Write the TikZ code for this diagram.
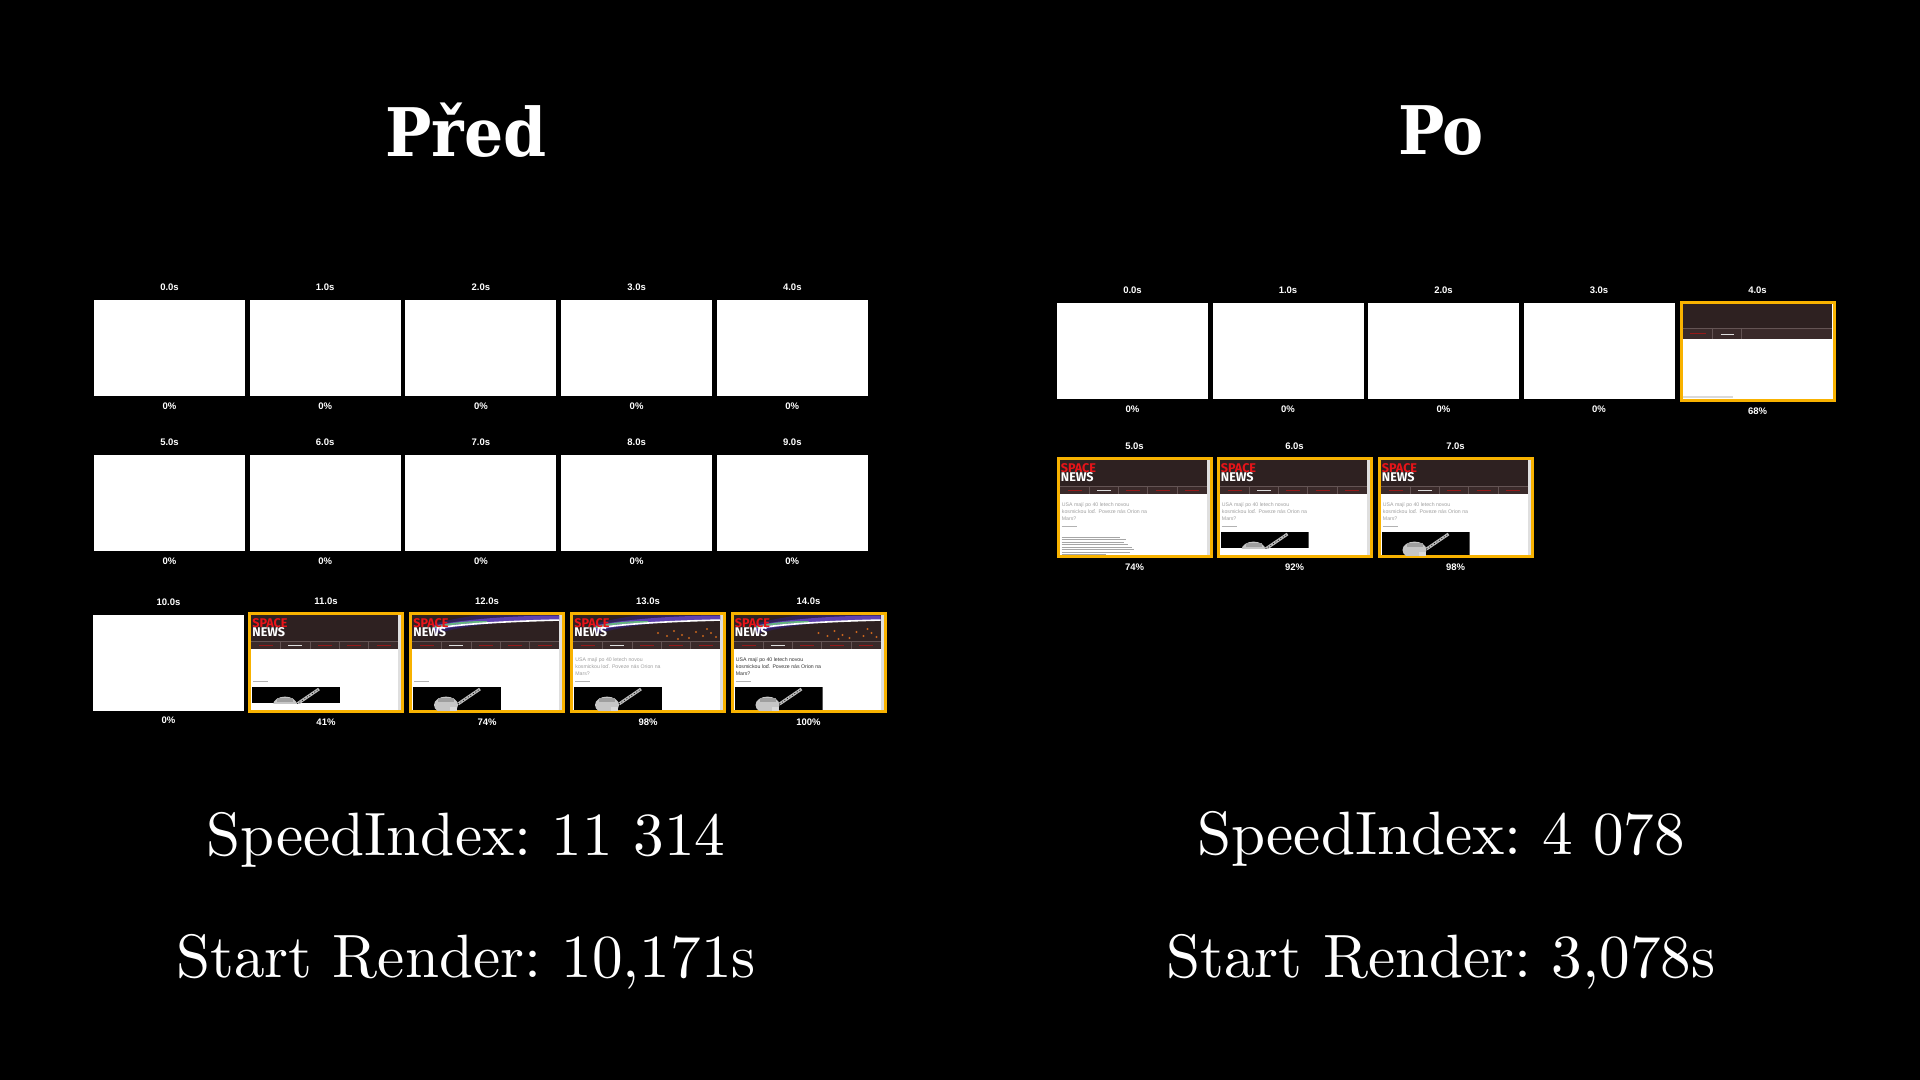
\documentclass[tikz,border=0pt]{standalone}
\usepackage{fontspec}
\setmainfont{lmroman10-regular.otf}
\newfontfamily\titlefont{DejaVu Serif}
\newfontfamily\labelfont{Liberation Sans}
\newfontfamily\logofont{Fira Sans}
\usetikzlibrary{positioning}
\definecolor{frameorange}{RGB}{248,178,0}
\definecolor{headerbrown}{RGB}{46,33,33}
\definecolor{navbrown}{RGB}{58,42,42}
\definecolor{navline}{RGB}{100,84,84}
\definecolor{logored}{RGB}{232,20,25}
\definecolor{navred}{RGB}{150,25,25}
\definecolor{earthpurple}{RGB}{96,66,178}
\definecolor{earthgreen}{RGB}{100,180,130}
\definecolor{citylight}{RGB}{200,100,30}

% earth horizon in the header (inside \sitehead)
\newcommand\earth{%
  \begin{scope}
    \clip (3,3) rectangle (150,29);
    \draw[earthpurple!50!black, line width=5pt] (25,17) .. controls (60,7) and (110,3) .. (152,3);
    \draw[earthpurple, line width=2.5pt] (25,16) .. controls (60,9) and (110,6) .. (152,6);
    \draw[earthgreen, line width=1pt] (26,15) .. controls (45,11) and (60,10) .. (78,10);
    \draw[white, line width=0.8pt] (28,16) .. controls (60,11) and (110,9) .. (152,8);
  \end{scope}}

% city lights below the horizon (inside \sitehead)
\newcommand\lights{%
  \foreach \lx/\ly in {88/21,97/24,104/19,112/23,119/26,126/20,
                       133/24,141/21,146/25,108/27,137/17}
    \fill[citylight] (\lx,\ly) circle (0.55pt);}

% site header with logo and five menu cells, #2 = extra header art
\newcommand\sitehead[2]{%
  \begin{scope}[shift={(#1.north west)}]
    \fill[gray!25] (150,3) rectangle (153,98);
    \fill[headerbrown] (3,3) rectangle (150,37);
    #2
    \fill[navbrown] (3,29) rectangle (150,37);
    \draw[navline, line width=0.3pt] (3,29) -- (150,29);
    \foreach \k in {1,...,4}
      \draw[navline, line width=0.3pt] (3+29.4*\k,29) -- (3+29.4*\k,37);
    \foreach \k in {0,2,3,4}
      \draw[navred, line width=0.5pt] (11+29.4*\k,33) -- (25+29.4*\k,33);
    \draw[white!75!gray, line width=0.4pt] (40.4,33) -- (54.4,33);
    \node[logo, text=logored] at (4,6) {SPACE};
    \node[logo, text=white] at (4,15.5) {NEWS};
  \end{scope}}

% article title, date line
\newcommand\headline[2]{%
  \begin{scope}[shift={(#1.north west)}]
    \node[headtext, text=#2] at (5,45.5)
      {USA mají po 40 letech novou\\kosmickou loď. Poveze nás Orion na\\Mars?};
  \end{scope}}
\newcommand\dateline[1]{%
  \begin{scope}[shift={(#1.north west)}]
    \draw[gray!60, line width=0.5pt] (5,69) -- (20,69);
  \end{scope}}

% black photo with the capsule, #2 = bottom edge
\newcommand\photo[2]{%
  \begin{scope}[shift={(#1.north west)}]
    \clip (4,75) rectangle (92,#2);
    \fill[black] (4,75) rectangle (92,#2);
    \fill[gray!45] (37,93) ellipse (6pt and 4.2pt);
    \fill[gray!75] (29,86) rectangle (45,90);
    \fill[white!70!gray] (41,95) rectangle (48,99);
    \draw[gray!55, line width=1.5pt] (49,92) -- (71,77);
    \draw[black, line width=0.3pt, dash pattern=on 0.5pt off 1pt] (49,92) -- (71,77);
  \end{scope}}

% body text lines
\newcommand\bodytext[1]{%
  \begin{scope}[shift={(#1.north west)}]
    \foreach \ly/\lw in {80/58,82.5/64,85/62,87.5/66,90/70,92.5/72,95/68,97.5/44}
      \draw[gray!70, line width=0.5pt] (5,\ly) -- (5+\lw,\ly);
  \end{scope}}

\begin{document}
\begin{tikzpicture}[x=0.5pt, y=-0.5pt,
  blank/.style={fill=white, minimum width=75.5pt, minimum height=48pt, inner sep=0, outer sep=0},
  framed/.style={fill=white, draw=frameorange, line width=1.5pt, minimum width=76.5pt, minimum height=49pt, inner sep=0},
  tlabel/.style={font=\labelfont\bfseries\fontsize{4.75}{5}\selectfont, text=white, inner sep=0},
  logo/.style={anchor=north west, inner sep=0, font=\logofont\bfseries\fontsize{6.3}{6.3}\selectfont},
  headtext/.style={anchor=north west, inner sep=0, align=left, font=\labelfont\fontsize{2.6}{3.35}\selectfont},
  title/.style={anchor=base, inner sep=0, text=white, font=\titlefont\bfseries\fontsize{33.5}{40}\selectfont},
  stat/.style={anchor=base, inner sep=0, text=white, font=\fontsize{30.6}{36}\selectfont\frenchspacing}]

\fill[black] (0,0) rectangle (1920,1080);
\useasboundingbox (0,0) rectangle (1920,1080);

% before
\node[title] (pred) at (466,157) {\scalebox{0.92}[1]{Před}};

\foreach \t in {0,...,10} {
  \pgfmathsetmacro\bx{\t<10 ? 169.5+155.7*mod(\t,5) : 168.5}
  \pgfmathsetmacro\by{\t<5 ? 348 : (\t<10 ? 503 : 662.5)}
  \node[blank] (pred\t) at (\bx,\by) {};
  \node[tlabel, above=4.3pt of pred\t] {\t.0s};
  \node[tlabel, below=3pt of pred\t] {0\%};
}
\foreach \t/\bx/\pc in {11/326/41,12/487/74,13/648/98,14/808.5/100} {
  \node[framed] (pred\t) at (\bx,662.5) {};
  \node[tlabel, above=3.5pt of pred\t] {\t.0s};
  \node[tlabel, below=2.8pt of pred\t] {\pc\%};
}
\sitehead{pred11}{} \dateline{pred11} \photo{pred11}{91}
\sitehead{pred12}{\earth} \dateline{pred12} \photo{pred12}{98}
\sitehead{pred13}{\earth\lights} \headline{pred13}{gray!75} \dateline{pred13} \photo{pred13}{98}
\sitehead{pred14}{\earth\lights} \headline{pred14}{black!80} \dateline{pred14} \photo{pred14}{98}

\node[stat] (si-pred) at (466,855) {SpeedIndex: 11 314};
\node[stat] (sr-pred) at (466,977) {Start Render: 10,171s};

% after
\node[title] (po) at (1441,155) {\scalebox{0.92}[1]{Po}};

\foreach \t in {0,...,3} {
  \node[blank] (po\t) at (1132.5+155.5*\t,351) {};
  \node[tlabel, above=4.3pt of po\t] {\t.0s};
  \node[tlabel, below=3pt of po\t] {0\%};
}
\node[framed] (po4) at (1757.5,351.5) {};
\node[tlabel, above=3.5pt of po4] {4.0s};
\node[tlabel, below=2.8pt of po4] {68\%};
\begin{scope}[shift={(po4.north west)}]
  \fill[headerbrown] (3,3) rectangle (152,38);
  \fill[navbrown] (3,27) rectangle (152,38);
  \draw[navline, line width=0.3pt] (3,27) -- (152,27) (33,27) -- (33,38) (62,27) -- (62,38);
  \draw[navred, line width=0.5pt] (10,33) -- (26,33);
  \draw[white!75!gray, line width=0.4pt] (41,33) -- (54,33);
  \draw[gray!30, line width=1pt] (3,96) -- (53,96);
\end{scope}

\foreach \t/\bx/\pc in {5/1134.5/74,6/1294.5/92,7/1455.5/98} {
  \node[framed] (po\t) at (\bx,507.5) {};
  \node[tlabel, above=3.5pt of po\t] {\t.0s};
  \node[tlabel, below=2.8pt of po\t] {\pc\%};
}
\sitehead{po5}{} \headline{po5}{gray!75} \dateline{po5} \bodytext{po5}
\sitehead{po6}{} \headline{po6}{gray!75} \dateline{po6} \photo{po6}{91}
\sitehead{po7}{} \headline{po7}{gray!75} \dateline{po7} \photo{po7}{98}

\node[stat] (si-po) at (1441,854) {SpeedIndex: 4 078};
\node[stat] (sr-po) at (1441,977) {Start Render: 3,078s};

\end{tikzpicture}
\end{document}
